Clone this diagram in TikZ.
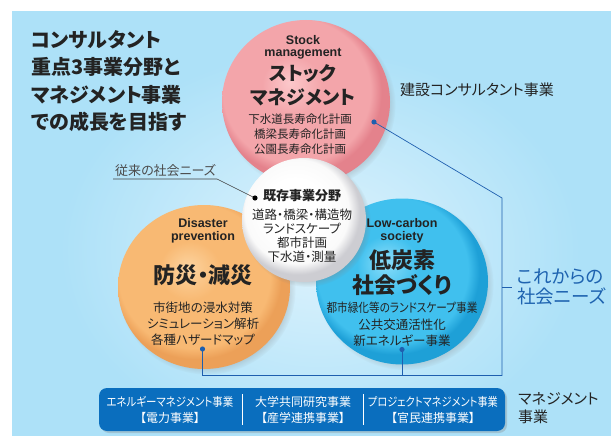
\documentclass[tikz,border=0pt]{standalone}
\usepackage{fontspec}
\usepackage{graphicx}
\setmainfont{Noto Sans CJK JP}[RawFeature=+palt]
\newfontfamily\en{Liberation Sans}
\usetikzlibrary{shapes.geometric,shadows,fadings}

\definecolor{bg}{RGB}{173,225,248}
\definecolor{bgl}{RGB}{222,243,253}
\definecolor{pinkHi}{RGB}{252,200,203}
\definecolor{pinkMid}{RGB}{243,165,170}
\definecolor{pinkRim}{RGB}{228,130,140}
\definecolor{orHi}{RGB}{253,212,160}
\definecolor{orMid}{RGB}{248,185,115}
\definecolor{orRim}{RGB}{236,160,88}
\definecolor{blHi}{RGB}{140,222,250}
\definecolor{blMid}{RGB}{64,192,238}
\definecolor{blRim}{RGB}{30,160,215}
\definecolor{whHi}{RGB}{255,255,255}
\definecolor{whMid}{RGB}{250,250,250}
\definecolor{whRim}{RGB}{205,205,210}
\definecolor{boxblue}{RGB}{10,110,190}
\definecolor{lineblue}{RGB}{30,95,175}
\definecolor{txt}{RGB}{35,35,35}
\definecolor{needblue}{RGB}{30,99,176}

\pgfdeclareradialshading{pinkball}{\pgfpoint{-5bp}{6bp}}{color(0bp)=(pinkHi); color(9bp)=(pinkMid); color(22bp)=(pinkMid); color(25bp)=(pinkRim); color(50bp)=(pinkRim)}
\pgfdeclareradialshading{orball}{\pgfpoint{-5bp}{6bp}}{color(0bp)=(orHi); color(9bp)=(orMid); color(22bp)=(orMid); color(25bp)=(orRim); color(50bp)=(orRim)}
\pgfdeclareradialshading{blball}{\pgfpoint{-5bp}{6bp}}{color(0bp)=(blHi); color(9bp)=(blMid); color(22bp)=(blMid); color(25bp)=(blRim); color(50bp)=(blRim)}
\pgfdeclareradialshading{whball}{\pgfpoint{-5bp}{6bp}}{color(0bp)=(whHi); color(12bp)=(whHi); color(21bp)=(whMid); color(25bp)=(whRim); color(50bp)=(whRim)}

\newcommand{\narrow}[2]{\scalebox{#1}[1]{#2}}

\tikzset{
  ball/.style={ellipse, draw=none, inner sep=0pt,
    circular drop shadow={shadow xshift=3pt, shadow yshift=-3pt, shadow scale=1.03, opacity=0.45}},
  entext/.style={font=\en\bfseries\fontsize{12.5}{12.5}\selectfont, text=txt, align=center, inner sep=0pt},
  bigtext/.style={font=\bfseries\fontsize{20}{24}\selectfont, text=txt, align=center, inner sep=0pt},
  smalltext/.style={font=\fontsize{12}{15.5}\selectfont, text=txt, align=center, inner sep=0pt},
  boxtext/.style={font=\fontsize{12}{16}\selectfont, text=white, align=center, inner sep=0pt},
  conn/.style={draw=lineblue, line width=0.7pt},
  dotb/.style={fill=lineblue},
}

\begin{document}
\begin{tikzpicture}[x=1pt,y=-1pt]
\useasboundingbox (0,0) rectangle (611,436);
\fill[white] (0,0) rectangle (611,436);
\fill[bg] (12,11.5) rectangle (611,436);
\begin{scope}
\clip (12,11.5) rectangle (611,436);
\shade[inner color=bgl, outer color=bg] (320,250) ellipse (260 and 200);
\end{scope}

% title
\node[font=\bfseries\fontsize{20}{27.5}\selectfont, text=txt, align=left, anchor=west, inner sep=0pt] (title) at (31,81)
  {コンサルタント\\重点3事業分野と\\マネジメント事業\\での成長を目指す};

% circles
\node[ball, shading=pinkball, minimum width=168pt, minimum height=164pt] (stock) at (306,102) {};
\node[ball, shading=orball, minimum width=172pt, minimum height=164pt] (disaster) at (204,287) {};
\node[ball, shading=blball, minimum width=172pt, minimum height=166pt] (lowc) at (402,281.5) {};
\node[ball, shading=whball, minimum width=124pt, minimum height=124pt] (exist) at (304,220) {};

% pink texts
\node[entext] (stocken) at (303,47.5) {Stock\\management};
\node[bigtext, font=\bfseries\fontsize{19}{24}\selectfont] (stockjp) at (303,85) {ストック\\マネジメント};
\node[smalltext, font=\fontsize{11.5}{15}\selectfont] (stocksm) at (300,134) {下水道長寿命化計画\\橋梁長寿命化計画\\公園長寿命化計画};

% white texts
\node[font=\bfseries\fontsize{13}{13}\selectfont, text=txt, inner sep=0pt] (existhd) at (302,196) {既存事業分野};
\node[smalltext, font=\fontsize{12.5}{14}\selectfont] (existsm) at (302,236) {道路・橋梁・構造物\\ランドスケープ\\都市計画\\下水道・測量};

% orange texts
\node[entext] (disen) at (203,231) {Disaster\\prevention};
\node[bigtext, font=\bfseries\fontsize{22}{24}\selectfont] (disjp) at (203,275) {防災・減災};
\node[smalltext, font=\fontsize{12.5}{16}\selectfont] (dissm) at (203,324) {市街地の浸水対策\\シミュレーション解析\\各種ハザードマップ};

% blue texts
\node[entext] (lowen) at (402,231) {Low-carbon\\society};
\node[bigtext, font=\bfseries\fontsize{22}{25}\selectfont] (lowjp) at (402,272.5) {低炭素\\社会づくり};
\node[smalltext, font=\fontsize{12.5}{16.5}\selectfont] (lowsm) at (402,324.5) {\narrow{0.85}{都市緑化等のランドスケープ事業}\\公共交通活性化\\新エネルギー事業};

% right labels
\node[font=\fontsize{15}{15}\selectfont, text=txt, anchor=west, inner sep=0pt] (consul) at (400,90) {建設コンサルタント事業};
\node[font=\fontsize{18.5}{20}\selectfont, text=needblue, anchor=west, align=left, inner sep=0pt] (needs) at (517,287) {これからの\\社会ニーズ};
\node[font=\fontsize{15}{18}\selectfont, text=txt, anchor=west, align=left, inner sep=0pt] (mgmt) at (518,408) {マネジメント\\事業};

% left label
\node[font=\fontsize{13}{13}\selectfont, text=black!70, anchor=south west, inner sep=0pt] (old) at (115,176.5) {従来の社会ニーズ};
\coordinate (u1) at (113,179);
\coordinate (u2) at (217,179);
\coordinate (wdot) at (255,198);
\draw[black!75, line width=0.6pt] (u1) -- (u2) -- (wdot);
\fill[black] (wdot) circle (2.6);

% connectors
\coordinate (pdot) at (374,122);
\coordinate (rc1) at (502,198);
\coordinate (rc2) at (502,375.5);
\coordinate (odot) at (202.5,349);
\coordinate (bdot) at (402,349.5);
\coordinate (ob) at (202.5,375.5);
\coordinate (bb) at (402,375.5);
\coordinate (tick) at (502,287);
\coordinate (tickend) at (512,287);
\draw[conn] (pdot) -- (rc1) -- (rc2) -- (ob) -- (odot);
\draw[conn] (bdot) -- (bb);
\draw[conn] (tick) -- (tickend);
\fill[dotb] (pdot) circle (2.6);
\fill[dotb] (odot) circle (2.6);
\fill[dotb] (bdot) circle (2.6);

% bottom box
\node[fill=boxblue, draw=none, rounded corners=8pt, minimum width=406pt, minimum height=43pt, inner sep=0pt,
  drop shadow={shadow xshift=2pt, shadow yshift=-2pt, opacity=0.3}] (box) at (302,409.5) {};
\node[boxtext] (b1) at (170,410) {\narrow{0.87}{エネルギーマネジメント事業}\\【電力事業】};
\node[boxtext] (b2) at (303,410) {大学共同研究事業\\【産学連携事業】};
\node[boxtext] (b3) at (433,410) {\narrow{0.85}{プロジェクトマネジメント事業}\\【官民連携事業】};
\draw[white, line width=0.8pt] (242,394) -- (242,425);
\draw[white, line width=0.8pt] (363,394) -- (363,425);
\end{tikzpicture}
\end{document}
